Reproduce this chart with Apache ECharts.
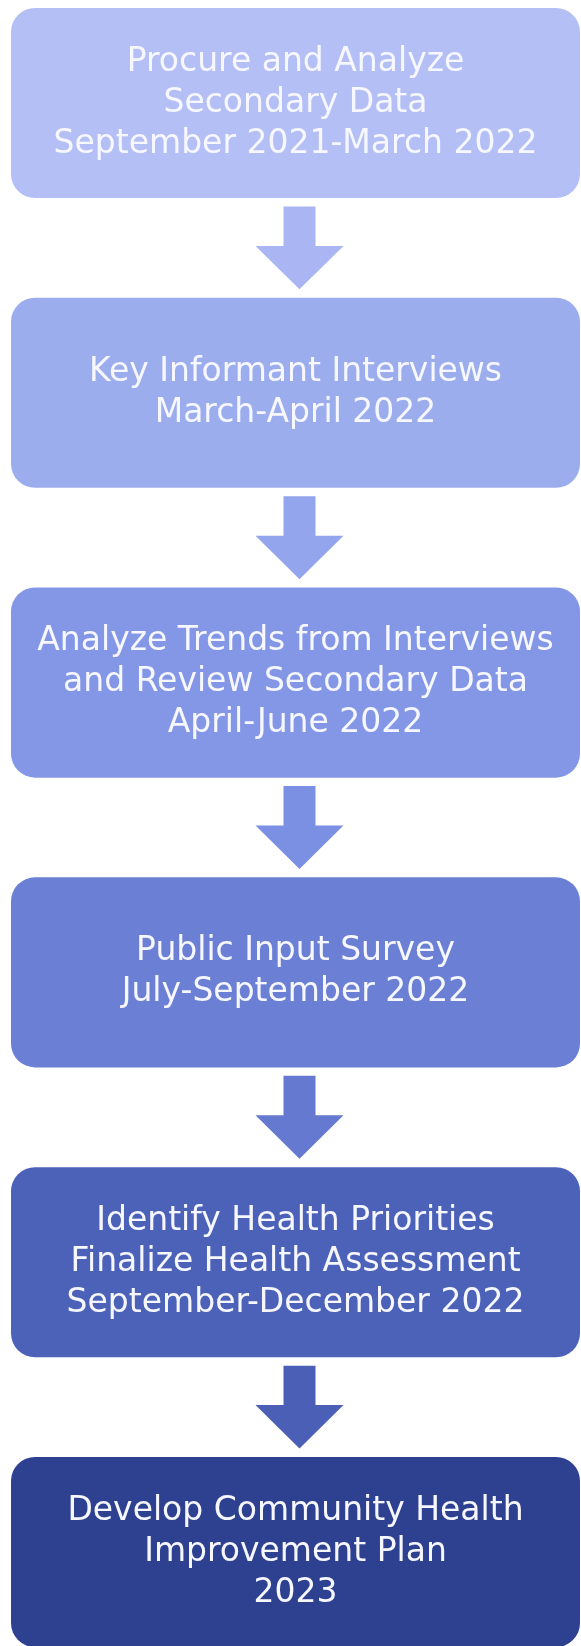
<!DOCTYPE html>
<html>
<head>
<meta charset="utf-8">
<script src="https://cdn.jsdelivr.net/npm/echarts@6/dist/echarts.min.js"></script>
<style>
html,body{margin:0;padding:0;background:#fff;}
#chart{width:581px;height:1646px;}
</style>
</head>
<body>
<div id="chart"></div>
<script>
// ---- data ----
const stepTitles = [
  "Procure and Analyze\nSecondary Data",
  "Key Informant Interviews",
  "Analyze Trends from Interviews\nand Review Secondary Data",
  "Public Input Survey",
  "Identify Health Priorities\nFinalize Health Assessment",
  "Develop Community Health\nImprovement Plan"
];
const stepPeriods = [
  "September 2021-March 2022",
  "March-April 2022",
  "April-June 2022",
  "July-September 2022",
  "September-December 2022",
  "2023"
];
const boxColors = ["#b4bff5", "#9cadee", "#8497e6", "#6b80d4", "#4c62b8", "#2e4190"];
const arrowColors = ["#aab6f3", "#93a5ec", "#7b90e2", "#6479cf", "#4a5fb5"];

const chart = echarts.init(document.getElementById('chart'), null, {renderer: 'canvas'});

const boxData = stepTitles.map((t, i) => [0.5, i]);
const arrowData = arrowColors.map((c, i) => [0.5, i + 0.5]);

const BOX_HALF_H = 0.328;   // in step units
const ARROW_HALF_H = 0.143;

function renderBox(params, api) {
  const i = params.dataIndex;
  const top = api.coord([0, api.value(1) - BOX_HALF_H]);
  const bot = api.coord([1, api.value(1) + BOX_HALF_H]);
  const x = top[0], y = top[1], w = bot[0] - top[0], h = bot[1] - top[1];
  return {
    type: 'rect',
    shape: {x: x, y: y, width: w, height: h, r: 24},
    style: {fill: boxColors[i]},
    textContent: {
      style: {
        text: stepTitles[i] + "\n" + stepPeriods[i],
        fill: '#f6f7ff',
        fontFamily: '"DejaVu Sans"',
        fontWeight: 'normal',
        fontSize: 33,
        lineHeight: 41,
        align: 'center',
        verticalAlign: 'middle'
      }
    },
    textConfig: {position: 'inside'}
  };
}

function renderArrow(params, api) {
  const i = params.dataIndex;
  const c = api.coord([api.value(0), api.value(1)]);
  const t = api.coord([api.value(0), api.value(1) - ARROW_HALF_H]);
  const b = api.coord([api.value(0), api.value(1) + ARROW_HALF_H]);
  const cx = c[0] + 4;
  const shaftHalf = 16, headHalf = 44;
  const headStart = c[1] - 2;
  return {
    type: 'polygon',
    shape: {points: [
      [cx - shaftHalf, t[1]], [cx + shaftHalf, t[1]],
      [cx + shaftHalf, headStart], [cx + headHalf, headStart],
      [cx, b[1]], [cx - headHalf, headStart],
      [cx - shaftHalf, headStart]
    ]},
    style: {fill: arrowColors[i]}
  };
}

const yMin = -0.3554;
const yMax = yMin + 1646 / 289.8;

chart.setOption({
  animation: false,
  backgroundColor: '#ffffff',
  grid: {left: 11, right: 1, top: 0, bottom: 0},
  xAxis: {type: 'value', min: 0, max: 1, show: false},
  yAxis: {type: 'value', min: yMin, max: yMax, inverse: true, show: false},
  series: [
    {type: 'custom', renderItem: renderBox, data: boxData, silent: true},
    {type: 'custom', renderItem: renderArrow, data: arrowData, silent: true}
  ]
});
</script>
</body>
</html>
